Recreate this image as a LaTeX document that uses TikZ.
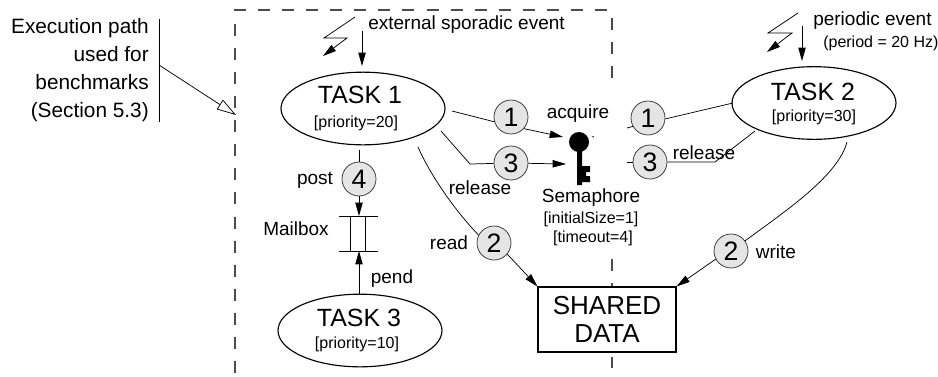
\documentclass[tikz,border=0pt]{standalone}
\usepackage{fontspec}
\setmainfont{Liberation Sans}
\usetikzlibrary{arrows.meta,shapes.geometric}
\definecolor{stepfill}{RGB}{229,229,229}
\tikzset{
  taskbox/.style={draw, ellipse, line width=0.85pt, minimum width=123pt, minimum height=54.5pt, inner sep=0pt},
  stepcircle/.style={draw=black!80, circle, fill=stepfill, line width=0.55pt, minimum size=25.5pt, inner sep=0pt, font=\fontsize{20}{22}\selectfont},
  bigtxt/.style={font=\fontsize{18.7}{20}\selectfont, inner sep=0pt},
  lbl/.style={font=\fontsize{14.25}{16}\selectfont, inner sep=0pt},
  smalltxt/.style={font=\fontsize{12}{14}\selectfont, inner sep=0pt},
  flow/.style={line width=0.55pt, -{Triangle[length=10pt,width=5.5pt]}},
  plain/.style={line width=0.55pt},
  boundary/.style={line width=0.8pt, draw=black!70, dash pattern=on 9pt off 9.05pt}
}
\begin{document}
\begin{tikzpicture}[x=0.75pt, y=-0.75pt]
  \useasboundingbox (0,0) rectangle (938,376);

  % Dashed boundary
  \draw[boundary] (234,10) -- (608,10);
  \draw[boundary] (235,24) -- (235,376);
  \draw[boundary] (612,18) -- (612,78);
  \draw[boundary] (612,259) -- (612,287);
  \draw[boundary] (612,357) -- (612,368);

  % Tasks
  \foreach \x/\y/\name/\tx/\ty/\px/\py/\lblt/\prio in {363/108.5/task1/360/95/356/123/TASK 1/20, 814/103/task2/813/92/814/117/TASK 2/30, 360/330.5/task3/359/318/357/344/TASK 3/10}
  {
    \node[taskbox] (\name) at (\x,\y) {};
    \node[bigtxt] (\name txt) at (\tx,\ty) {\lblt};
    \node[smalltxt] (\name prio) at (\px,\py) {[priority=\prio]};
  }

  % Steps
  \foreach \x/\y/\name/\num in {511/117/acqL/1, 511/163/relL/3, 648/118/acqR/1, 650/162/relR/3, 359/179/post/4, 494/243/read/2, 731/251/write/2}
  {
    \node[stepcircle] (\name) at (\x,\y) {\num};
  }

  % Shared data and mailbox
  \node[draw, fill=white, line width=0.85pt, minimum width=103.5pt, minimum height=48.75pt, inner sep=0pt, align=center, font=\fontsize{19.5}{21}\selectfont] (shared) at (607,319.5) {SHARED\\[0.5pt]DATA};
  \node[draw, line width=0.55pt, minimum width=11.25pt, minimum height=26.25pt, inner sep=0pt] (mailbox) at (357.5,233.5) {};
  \draw[plain] (339,216) -- (378,216) (339,251) -- (378,251);
  \coordinate (boxtop) at (359,216);
  \coordinate (boxbot) at (359,251);

  % Key
  \fill (579,142) circle (10);
  \fill (577,148) -- (582,148) -- (582,166) -- (590,166) -- (590,172) -- (586,172) -- (586,176) -- (590,176) -- (590,182) -- (582,182) -- (582,185) -- (577,185) -- cycle;
  \draw[plain] (592,137) -- (594,136.5);
  \coordinate (keyA) at (563,137);
  \coordinate (keyB) at (566,164);

  % Free ends by the tasks
  \coordinate (t1a) at (452,111);
  \coordinate (t1b) at (441,131);
  \coordinate (t1bk) at (470,164);
  \coordinate (t1c) at (418,147);
  \coordinate (t1d) at (359,150);
  \coordinate (acqstub) at (627,128);
  \coordinate (relstub) at (627,162);
  \coordinate (t2a) at (733,103);
  \coordinate (t2bk) at (715,162);
  \coordinate (t2b) at (755,131);
  \coordinate (t2c) at (847,142);

  % Left side connectors
  \draw[plain] (t1a) -- (acqL.196);
  \draw[flow] (acqL.-42) -- (keyA);
  \draw[plain] (t1b) -- (t1bk) -- (relL);
  \draw[flow] (relL) -- (keyB);
  \draw[plain] (t1c) .. controls (428,170) and (450,205) .. (read.153);
  \draw[flow] (read.-40) -- (shared.north west);
  \draw[plain] (t1d) -- (post);
  \draw[flow] (post) -- (boxtop);
  \draw[flow] (task3.north -| boxbot) -- (boxbot);

  % Right side connectors
  \draw[plain] (acqstub) -- (acqR.209);
  \draw[plain] (acqR.-3) -- (t2a);
  \draw[plain] (relstub) -- (relR);
  \draw[plain] (relR) -- (t2bk) -- (t2b);
  \draw[plain] (t2c) .. controls (838,175) and (790,208) .. (write.36);
  \draw[flow] (write.208) -- (shared.north east);

  % Events
  \coordinate (ev1a) at (355,17);
  \coordinate (ev1b) at (324,38);
  \coordinate (ev1c) at (347,38);
  \coordinate (ev1d) at (323,56);
  \coordinate (ev1e) at (362,31);
  \coordinate (ev1f) at (362,66);
  \draw[flow] (ev1a) -- (ev1b) -- (ev1c) -- (ev1d);
  \draw[flow] (ev1e) -- (ev1f);
  \coordinate (ev2a) at (798,13);
  \coordinate (ev2b) at (768,33);
  \coordinate (ev2c) at (792,33);
  \coordinate (ev2d) at (767,52);
  \coordinate (ev2e) at (802,26);
  \coordinate (ev2f) at (802,61);
  \draw[flow] (ev2a) -- (ev2b) -- (ev2c) -- (ev2d);
  \draw[flow] (ev2e) -- (ev2f);

  % Labels
  \node[lbl, anchor=west] (extlbl) at (368,25) {external sporadic event};
  \node[lbl, anchor=west] (perlbl) at (813,21) {periodic event};
  \node[smalltxt, anchor=west] (perval) at (823,43) {(period = 20 Hz)};
  \node[lbl] (acqlbl) at (578,114) {acquire};
  \node[lbl] (rellblL) at (480,188) {release};
  \node[lbl] (rellblR) at (704,153) {release};
  \node[lbl] (postlbl) at (315,180) {post};
  \node[lbl] (semlbl) at (591,198) {Semaphore};
  \node[smalltxt] (initlbl) at (591,219) {[initialSize=1]};
  \node[smalltxt] (timelbl) at (593,238) {[timeout=4]};
  \node[lbl] (maillbl) at (296,229) {Mailbox};
  \node[lbl] (readlbl) at (449,243) {read};
  \node[lbl] (pendlbl) at (392,279) {pend};
  \node[lbl] (writelbl) at (776,252) {write};

  % Side note
  \node[align=right, anchor=east, inner sep=0pt, font=\fontsize{15.6}{21}\selectfont] (note) at (149,70) {Execution path\\used for\\benchmarks\\(Section 5.3)};
  \coordinate (bartop) at (159,19);
  \coordinate (barbot) at (159,122);
  \coordinate (barmid) at (159,65);
  \coordinate (pathend) at (236,115);
  \draw[plain] (bartop) -- (barbot);
  \draw[plain, -{Triangle[open, length=14.5pt, width=8.5pt, fill=white]}] (barmid) -- (pathend);
\end{tikzpicture}
\end{document}
